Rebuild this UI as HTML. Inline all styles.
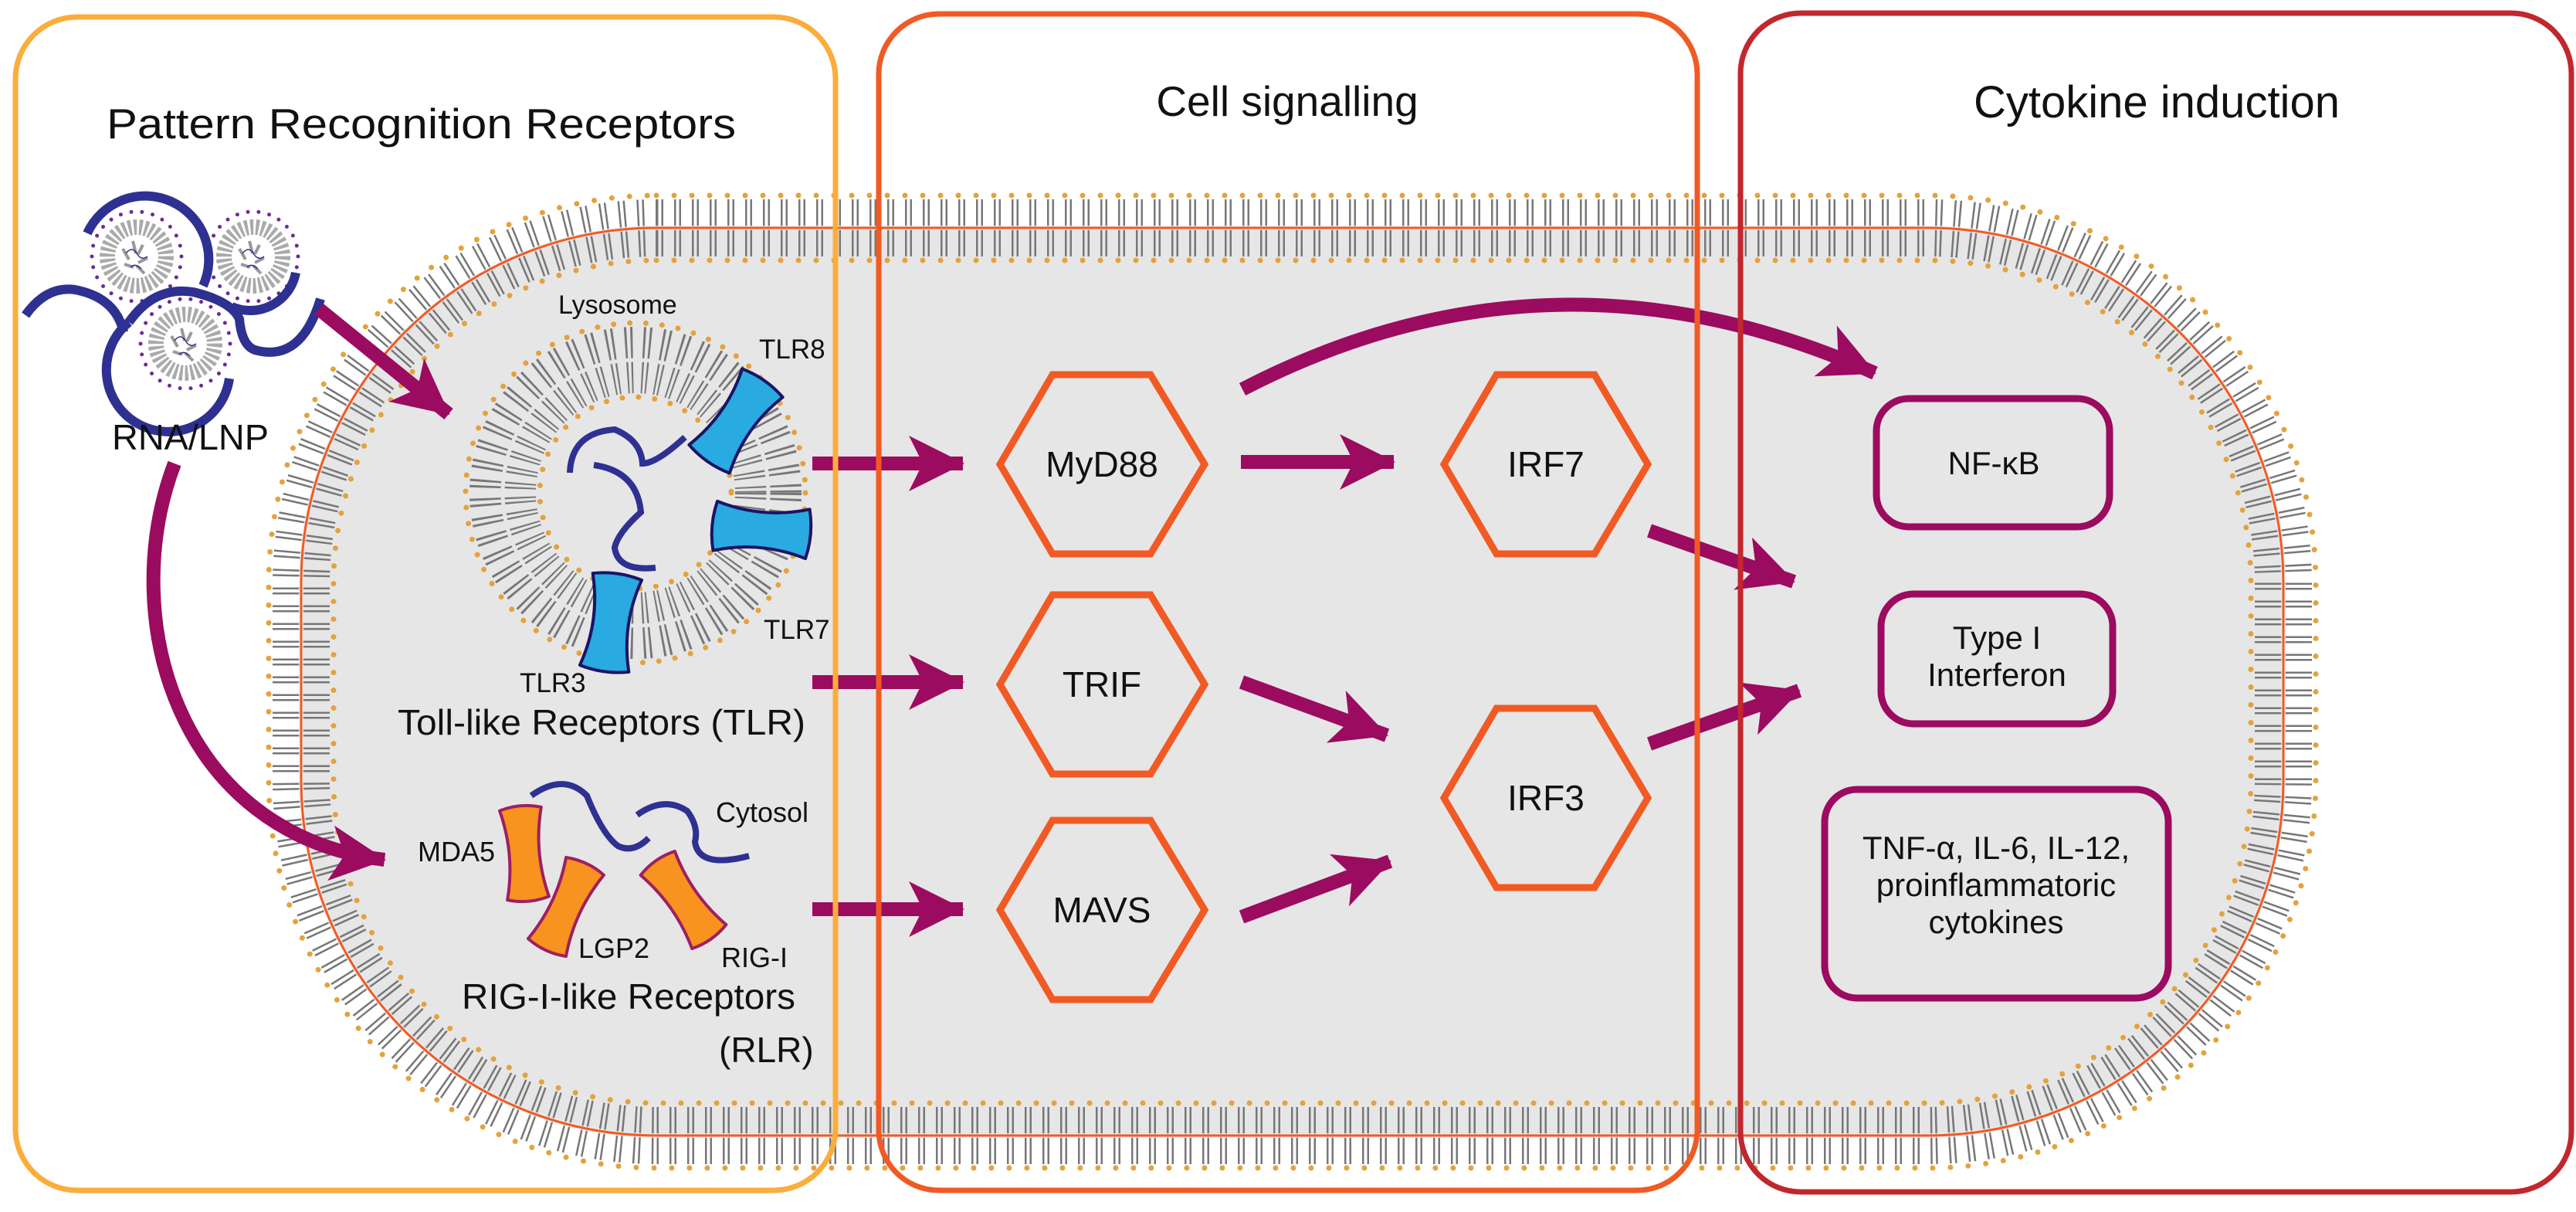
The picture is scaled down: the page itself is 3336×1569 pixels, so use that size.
<!DOCTYPE html>
<html><head><meta charset="utf-8"><style>
html,body{margin:0;padding:0;background:#fff}
svg{display:block}
text{font-family:"Liberation Sans",sans-serif;fill:#111}
</style></head><body>
<svg width="3336" height="1569" viewBox="0 0 3336 1569" xmlns="http://www.w3.org/2000/svg">
<defs>
<marker id="ah" markerUnits="userSpaceOnUse" markerWidth="90" markerHeight="80" refX="70" refY="36" orient="auto">
<path d="M0,0 L72,36 L0,72 L18,36 Z" fill="#9b0b5f"/>
</marker>
<g id="tlr"><path d="M-32,-60 Q0,-68 32,-60 Q14,0 32,60 Q0,68 -32,60 Q-14,0 -32,-60 Z" fill="#29aae1" stroke="#1b1464" stroke-width="4" stroke-linejoin="round"/></g>
<g id="rlr"><path d="M-27,-58 Q0,-66 27,-58 Q12,0 27,58 Q0,66 -27,58 Q-12,0 -27,-58 Z" fill="#f7931e" stroke="#9e1f63" stroke-width="4" stroke-linejoin="round"/></g>
<g id="lnp">
<circle r="38" fill="none" stroke="#aaa" stroke-width="20" stroke-dasharray="4 3"/>
<circle r="58" fill="none" stroke="#6b2c91" stroke-width="5" stroke-dasharray="0 14" stroke-linecap="round"/>
<path d="M-18,-10 l8,14 M-5,-20 l4,16 M8,-15 l-6,12 M14,2 l-12,6 M-16,10 l12,4 M0,12 l10,10" stroke="#999" stroke-width="4"/>
<path d="M-14,-4 q8,-10 14,0 t14,4 M-8,14 q6,-6 14,2" stroke="#2e3192" stroke-width="1.5" fill="none"/>
</g>
</defs>

<rect x="390" y="295" width="2567" height="1175" rx="460" fill="#e6e6e6"/>
<rect x="390" y="295" width="2567" height="1175" rx="460" fill="none" stroke="#777" stroke-width="74" stroke-dasharray="2.5 4 2.5 14"/>
<rect x="390" y="295" width="2567" height="1175" rx="460" fill="none" stroke="#ededed" stroke-width="6" opacity="0.8"/>
<rect x="390" y="295" width="2567" height="1175" rx="460" fill="none" stroke="#f15a24" stroke-width="3"/>
<rect x="348" y="253" width="2651" height="1259" rx="502" fill="none" stroke="#e4a23d" stroke-width="7" stroke-dasharray="0 23" stroke-linecap="round"/>
<rect x="432" y="337" width="2483" height="1091" rx="418" fill="none" stroke="#e4a23d" stroke-width="7" stroke-dasharray="0 23" stroke-linecap="round"/>

<circle cx="823" cy="638" r="172" fill="none" stroke="#777" stroke-width="86" stroke-dasharray="2.5 4 2.5 12"/>
<circle cx="823" cy="638" r="172" fill="none" stroke="#e6e6e6" stroke-width="5"/>
<circle cx="823" cy="638" r="220" fill="none" stroke="#e4a23d" stroke-width="7" stroke-dasharray="0 21" stroke-linecap="round"/>
<circle cx="823" cy="638" r="124" fill="none" stroke="#e4a23d" stroke-width="7" stroke-dasharray="0 21" stroke-linecap="round"/>
<use href="#tlr" transform="translate(953,545) rotate(35)"/>
<use href="#tlr" transform="translate(986,686) rotate(95)"/>
<use href="#tlr" transform="translate(791,806) rotate(8)"/>
<path d="M738,612 Q740,560 796,556 Q830,570 832,600 Q850,600 887,566" stroke="#2e3192" stroke-width="8" fill="none"/>
<path d="M769,602 Q825,610 830,663 Q800,690 796,709 Q800,740 849,735" stroke="#2e3192" stroke-width="8" fill="none"/>
<text x="723" y="406" font-size="34">Lysosome</text>
<text x="983" y="464" font-size="35">TLR8</text>
<text x="989" y="827" font-size="35">TLR7</text>
<text x="673" y="896" font-size="35">TLR3</text>
<text x="515" y="951" font-size="46" textLength="528" lengthAdjust="spacingAndGlyphs">Toll-like Receptors (TLR)</text>

<path d="M688,1030 Q730,1000 760,1030 Q780,1080 800,1095 Q820,1105 840,1085" stroke="#2e3192" stroke-width="8" fill="none"/>
<path d="M825,1055 Q860,1030 890,1050 Q905,1070 900,1090 Q905,1125 970,1108" stroke="#2e3192" stroke-width="8" fill="none"/>
<use href="#rlr" transform="translate(679,1105) rotate(-5)"/>
<use href="#rlr" transform="translate(733,1174) rotate(25)"/>
<use href="#rlr" transform="translate(885,1165) rotate(-35)"/>
<text x="541" y="1115" font-size="36">MDA5</text>
<text x="927" y="1064" font-size="36">Cytosol</text>
<text x="749" y="1240" font-size="36">LGP2</text>
<text x="934" y="1252" font-size="36">RIG-I</text>
<text x="598" y="1306" font-size="46" textLength="432" lengthAdjust="spacingAndGlyphs">RIG-I-like Receptors</text>
<text x="931" y="1375" font-size="46">(RLR)</text>

<use href="#lnp" transform="translate(177,332)"/>
<use href="#lnp" transform="translate(328,332)"/>
<use href="#lnp" transform="translate(240,445)"/>
<g stroke="#2e3192" stroke-width="12" fill="none" stroke-linecap="butt">
<path d="M113,302 A68,68 0 1 1 263,370"/>
<path d="M300,397 A60,60 0 0 0 383,353"/>
<path d="M167,417 A80,80 0 1 0 297,490"/>
<path d="M167,417 Q200,370 250,378 Q300,390 310,413 Q313,447 330,453 Q390,470 415,387"/>
<path d="M33,408 Q60,370 97,375 Q150,385 160,430"/>
</g>
<text x="145" y="582" font-size="46" textLength="203" lengthAdjust="spacingAndGlyphs">RNA/LNP</text>

<g stroke="#9b0b5f" stroke-width="18" fill="none" marker-end="url(#ah)">
<path d="M413,400 L581,536"/>
<path d="M226,600 C150,800 230,1080 498,1113"/>
<path d="M1052,600 L1247,600"/>
<path d="M1052,883 L1247,883"/>
<path d="M1052,1177 L1247,1177"/>
<path d="M1607,598 L1805,598"/>
<path d="M1608,883 L1796,952"/>
<path d="M1608,1187 L1800,1115"/>
<path d="M2136,687 L2323,753"/>
<path d="M2136,963 L2330,894"/>
<path d="M1609,504 Q2010,296 2428,483"/>
</g>

<g fill="none" stroke="#f15a24" stroke-width="9" stroke-linejoin="miter">
<polygon points="1295,601 1363,485 1490,485 1560,601 1490,717 1363,717"/>
<polygon points="1295,886 1363,770 1490,770 1560,886 1490,1002 1363,1002"/>
<polygon points="1295,1178 1363,1062 1490,1062 1560,1178 1490,1294 1363,1294"/>
<polygon points="1870,601 1938,485 2065,485 2134,601 2065,717 1938,717"/>
<polygon points="1870,1033 1938,917 2065,917 2134,1033 2065,1149 1938,1149"/>
</g>
<g font-size="46" text-anchor="middle">
<text x="1427" y="617">MyD88</text>
<text x="1427" y="902">TRIF</text>
<text x="1427" y="1194">MAVS</text>
<text x="2002" y="617">IRF7</text>
<text x="2002" y="1049">IRF3</text>
</g>

<g fill="none" stroke="#9b0b5f" stroke-width="9">
<rect x="2430" y="516" width="302" height="166" rx="42"/>
<rect x="2436" y="769" width="300" height="168" rx="42"/>
<rect x="2363" y="1022" width="445" height="270" rx="42"/>
</g>
<g font-size="42" text-anchor="middle">
<text x="2582" y="614">NF-κB</text>
<text x="2586" y="840">Type I</text>
<text x="2586" y="888">Interferon</text>
<text x="2585" y="1112">TNF-α, IL-6, IL-12,</text>
<text x="2585" y="1160">proinflammatoric</text>
<text x="2585" y="1208">cytokines</text>
</g>

<rect x="20" y="22" width="1062" height="1519" rx="80" fill="none" stroke="#fbad3b" stroke-width="7"/>
<rect x="1138" y="18" width="1060" height="1523" rx="78" fill="none" stroke="#f15a24" stroke-width="7"/>
<rect x="2254" y="17" width="1076" height="1526" rx="78" fill="none" stroke="#c1272d" stroke-width="7"/>

<text x="138" y="179" font-size="55" textLength="815" lengthAdjust="spacingAndGlyphs">Pattern Recognition Receptors</text>
<text x="1667" y="150" font-size="55" text-anchor="middle">Cell signalling</text>
<text x="2793" y="152" font-size="58" text-anchor="middle">Cytokine induction</text>
</svg>
</body></html>
